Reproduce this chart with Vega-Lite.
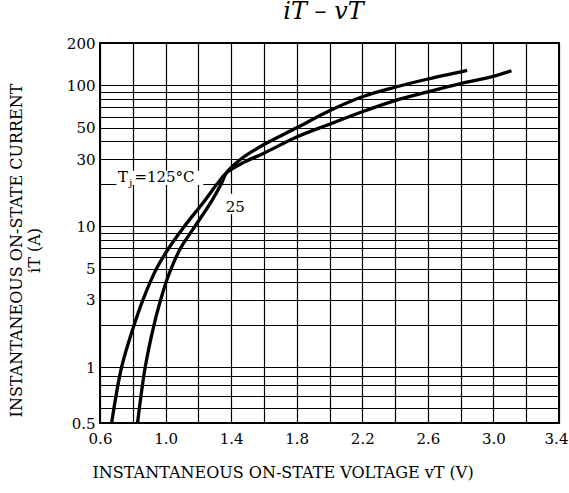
{
  "$schema": "https://vega.github.io/schema/vega-lite/v6.json",
  "width": 459,
  "height": 380,
  "autosize": "none",
  "padding": {"left": 100, "top": 43, "right": 10, "bottom": 70},
  "background": "white",
  "config": {
    "font": "DejaVu Serif",
    "view": {"stroke": "black", "strokeWidth": 2}
  },
  "title": {
    "text": "iT – vT",
    "font": "DejaVu Serif",
    "fontSize": 24,
    "fontStyle": "italic",
    "fontWeight": "normal",
    "color": "black",
    "anchor": "middle",
    "offset": 12,
    "dx": -6
  },
  "datasets": {
    "curves": [
      {"v": 0.671, "i": 0.5, "Tj": "125"},
      {"v": 0.732, "i": 1, "Tj": "125"},
      {"v": 0.809, "i": 2, "Tj": "125"},
      {"v": 0.862, "i": 3, "Tj": "125"},
      {"v": 0.945, "i": 5, "Tj": "125"},
      {"v": 1.02, "i": 7, "Tj": "125"},
      {"v": 1.115, "i": 10, "Tj": "125"},
      {"v": 1.235, "i": 15, "Tj": "125"},
      {"v": 1.315, "i": 20, "Tj": "125"},
      {"v": 1.372, "i": 24, "Tj": "125"},
      {"v": 1.48, "i": 28.5, "Tj": "125"},
      {"v": 1.60, "i": 33, "Tj": "125"},
      {"v": 1.80, "i": 43, "Tj": "125"},
      {"v": 2.00, "i": 53, "Tj": "125"},
      {"v": 2.20, "i": 65, "Tj": "125"},
      {"v": 2.40, "i": 78, "Tj": "125"},
      {"v": 2.60, "i": 90, "Tj": "125"},
      {"v": 2.80, "i": 103, "Tj": "125"},
      {"v": 3.00, "i": 116, "Tj": "125"},
      {"v": 3.11, "i": 127, "Tj": "125"},
      {"v": 0.829, "i": 0.5, "Tj": "25"},
      {"v": 0.876, "i": 1, "Tj": "25"},
      {"v": 0.93, "i": 2, "Tj": "25"},
      {"v": 0.97, "i": 3, "Tj": "25"},
      {"v": 1.003, "i": 4, "Tj": "25"},
      {"v": 1.034, "i": 5, "Tj": "25"},
      {"v": 1.092, "i": 7, "Tj": "25"},
      {"v": 1.18, "i": 10, "Tj": "25"},
      {"v": 1.28, "i": 15, "Tj": "25"},
      {"v": 1.34, "i": 20, "Tj": "25"},
      {"v": 1.372, "i": 24, "Tj": "25"},
      {"v": 1.46, "i": 30, "Tj": "25"},
      {"v": 1.60, "i": 38, "Tj": "25"},
      {"v": 1.80, "i": 50, "Tj": "25"},
      {"v": 2.00, "i": 66, "Tj": "25"},
      {"v": 2.20, "i": 83, "Tj": "25"},
      {"v": 2.40, "i": 97, "Tj": "25"},
      {"v": 2.60, "i": 111, "Tj": "25"},
      {"v": 2.84, "i": 128, "Tj": "25"}
    ],
    "boxes": [
      {"v": 0.70, "v2": 1.23, "i": 19.6, "i2": 24.8},
      {"v": 1.37, "v2": 1.48, "i": 12.2, "i2": 17.0}
    ],
    "labelT": [{"v": 0.71, "i": 20.6, "t": "T"}],
    "labelJ": [{"v": 0.778, "i": 20.6, "t": "j"}],
    "labelRest": [{"v": 0.81, "i": 20.6, "t": "=125°C"}],
    "label25": [{"v": 1.425, "i": 13.6, "t": "25"}]
  },
  "encoding": {
    "x": {
      "field": "v",
      "type": "quantitative",
      "scale": {"domain": [0.6, 3.4], "nice": false, "zero": false},
      "axis": {
        "values": [0.6, 0.8, 1.0, 1.2, 1.4, 1.6, 1.8, 2.0, 2.2, 2.4, 2.6, 2.8, 3.0, 3.2, 3.4],
        "format": ".1f",
        "labelExpr": "indexof(['0.6','1.0','1.4','1.8','2.2','2.6','3.0','3.4'], datum.label) >= 0 ? datum.label : ''",
        "labelOffset": {"condition": {"test": "datum.value > 3.35", "value": -3}, "value": 0},
        "grid": true,
        "gridColor": "black",
        "gridOpacity": 1,
        "gridWidth": 1.2,
        "ticks": false,
        "domain": false,
        "labelFontSize": 15,
        "labelColor": "black",
        "labelPadding": 8,
        "labelOverlap": false,
        "labelFlush": false,
        "labelBound": false,
        "title": "INSTANTANEOUS ON-STATE VOLTAGE   vT    (V)",
        "titleFontSize": 16,
        "titleFontWeight": "normal",
        "titleColor": "black",
        "titleAnchor": "start",
        "titleX": -8,
        "titlePadding": 18
      }
    },
    "y": {
      "field": "i",
      "type": "quantitative",
      "scale": {"type": "log", "domain": [0.5, 1, 200], "range": [380, 324, 0]},
      "axis": {
        "values": [0.5, 0.6, 0.7, 0.8, 0.9, 1, 2, 3, 4, 5, 6, 7, 8, 9, 10, 20, 30, 40, 50, 60, 70, 80, 90, 100, 200],
        "labelExpr": "indexof([0.5, 1, 3, 5, 10, 30, 50, 100, 200], datum.value) >= 0 ? format(datum.value, '~g') : ''",
        "grid": true,
        "gridColor": "black",
        "gridOpacity": 1,
        "gridWidth": 1.2,
        "ticks": false,
        "domain": false,
        "labelFontSize": 15,
        "labelColor": "black",
        "labelPadding": 5,
        "labelOverlap": false,
        "labelFlush": false,
        "labelBound": false,
        "title": ["INSTANTANEOUS ON-STATE CURRENT", "iT   (A)"],
        "titleFontSize": 16,
        "titleFontWeight": "normal",
        "titleColor": "black",
        "titlePadding": 24,
        "titleY": 207
      }
    }
  },
  "layer": [
    {
      "data": {"name": "boxes"},
      "mark": {"type": "rect", "fill": "white", "stroke": null},
      "encoding": {"x2": {"field": "v2"}, "y2": {"field": "i2"}}
    },
    {
      "data": {"name": "curves"},
      "mark": {"type": "line", "color": "black", "strokeWidth": 3.3, "interpolate": "catmull-rom"},
      "encoding": {"detail": {"field": "Tj"}}
    },
    {
      "data": {"name": "labelT"},
      "mark": {"type": "text", "align": "left", "baseline": "alphabetic", "fontSize": 15, "color": "black"},
      "encoding": {"text": {"field": "t"}}
    },
    {
      "data": {"name": "labelJ"},
      "mark": {"type": "text", "align": "left", "baseline": "alphabetic", "fontSize": 10, "dy": 4, "color": "black"},
      "encoding": {"text": {"field": "t"}}
    },
    {
      "data": {"name": "labelRest"},
      "mark": {"type": "text", "align": "left", "baseline": "alphabetic", "fontSize": 15, "color": "black"},
      "encoding": {"text": {"field": "t"}}
    },
    {
      "data": {"name": "label25"},
      "mark": {"type": "text", "align": "center", "baseline": "middle", "fontSize": 15, "color": "black"},
      "encoding": {"text": {"field": "t"}}
    }
  ]
}
